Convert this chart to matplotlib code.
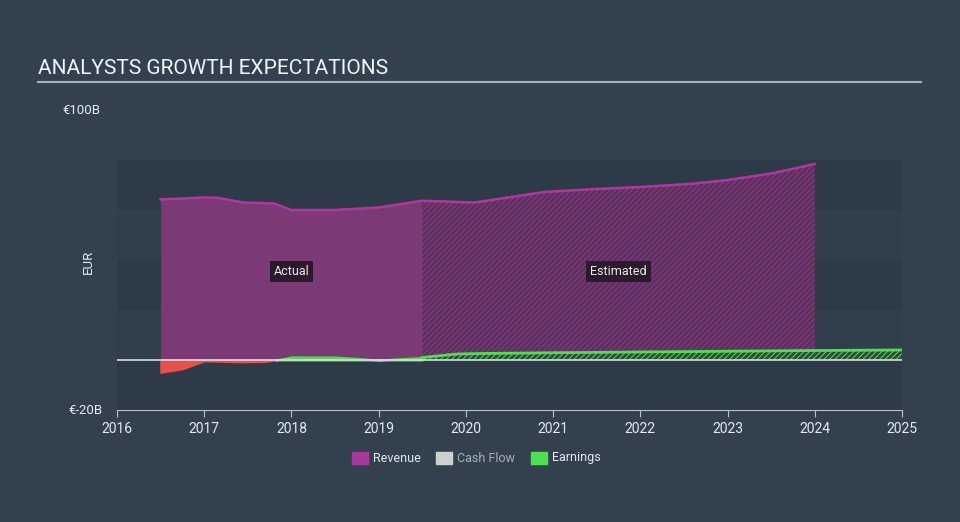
import numpy as np
import matplotlib
matplotlib.use("Agg")
import matplotlib.pyplot as plt
from matplotlib.patches import Rectangle

plt.rcParams['font.family'] = ['Roboto', 'DejaVu Sans']
plt.rcParams['hatch.linewidth'] = 0.7

# revenue, EUR billions
rev_years_act = [2016.5, 2017.0, 2017.15, 2017.45, 2017.8, 2018.0, 2018.5, 2019.0, 2019.5]
rev_act = [64.2, 65.0, 64.9, 63.0, 62.6, 60.0, 60.0, 61.0, 63.7]
rev_years_est = [2019.5, 2020.1, 2020.9, 2021.5, 2022.0, 2022.6, 2023.0, 2023.5, 2024.0]
rev_est = [63.7, 63.0, 67.2, 68.4, 69.2, 70.5, 72.0, 74.6, 78.4]

# earnings, EUR billions
earn_years_act = [2016.5, 2016.75, 2017.0, 2017.4, 2017.7, 2017.85, 2018.0, 2018.5, 2019.0, 2019.5]
earn_act = [-5.0, -3.6, -0.4, -0.8, -0.7, 0.2, 1.2, 1.2, 0.0, 1.0]
earn_years_est = [2019.5, 2019.9, 2020.2, 2021.0, 2022.0, 2023.0, 2024.0, 2025.0]
earn_est = [1.0, 2.4, 2.6, 2.9, 3.2, 3.5, 3.8, 4.0]

bg = '#33414f'
fig = plt.figure(figsize=(9.6, 5.22), dpi=100, facecolor=bg)
ax = fig.add_axes([117/960, 112/522, 785/960, 300/522])
ax.set_facecolor(bg)
ax.set_xlim(2016, 2025)
ax.set_ylim(-20, 100)

# background bands
for lo, c in [(-20, '#2d3b49'), (0, '#313f4d'), (20, '#2d3b49'), (40, '#313f4d'), (60, '#2d3b49')]:
    ax.axhspan(lo, lo + 20, color=c, lw=0, zorder=0)

# revenue
ax.fill_between(rev_years_act, 0, rev_act, color='#7b3a76', lw=0, zorder=2)
ax.fill_between(rev_years_est, 0, rev_est, facecolor='#5c305e', edgecolor='#8c3c86',
                hatch='//////', lw=0, zorder=2)
ax.plot(rev_years_act + rev_years_est, rev_act + rev_est, color='#b2369f', lw=1.8, zorder=3)

# earnings
ea = np.array(earn_act)
ax.fill_between(earn_years_act, 0, ea, where=ea < 0, interpolate=True,
                color='#e8514a', lw=1.2, zorder=4)
ax.fill_between(earn_years_act, 0, ea, where=ea >= 0, interpolate=True,
                facecolor='#4fe04f', edgecolor='#4fe04f', lw=1.5, zorder=4)
ax.fill_between(earn_years_est, 0, earn_est, facecolor='#2f4a3c', edgecolor='#4fe04f',
                hatch='//////', lw=0, zorder=4)
ax.plot(earn_years_est, earn_est, color='#4fe04f', lw=2, zorder=5)

ax.axhline(0, color='#d8dde2', lw=1.2, zorder=6)

for s in ['top', 'right', 'left']:
    ax.spines[s].set_visible(False)
ax.spines['bottom'].set_color('#b8c0c8')
ax.set_yticks([])
ax.set_xticks(range(2016, 2026))
ax.tick_params(axis='x', colors='#b8c0c8', labelcolor='#e6e9ec', labelsize=10, length=5)

ax.text(2018.0, 35.5, 'Actual', color='#e8e8e8', fontsize=9, ha='center', va='center', zorder=7,
        bbox=dict(boxstyle='square,pad=0.3', fc='#2c1a2c', ec='none'))
ax.text(2021.75, 35.5, 'Estimated', color='#e8e8e8', fontsize=9, ha='center', va='center', zorder=7,
        bbox=dict(boxstyle='square,pad=0.3', fc='#2c1a2c', ec='none'))

# title and axis texts
fig.text(38/960, 1 - 68/522, 'ANALYSTS GROWTH EXPECTATIONS', color='#f2f4f6', fontsize=15,
         va='center', ha='left')
fig.add_artist(plt.Line2D([38/960, 921/960], [1 - 82/522, 1 - 82/522], color='#a9b0b8', lw=1.5))
fig.text(100/960, 1 - 110/522, '€100B', color='#e6e9ec', fontsize=9.5, ha='right', va='center')
fig.text(103/960, 1 - 410/522, '€-20B', color='#e6e9ec', fontsize=9.5, ha='right', va='center')
fig.text(88/960, 1 - 262/522, 'EUR', color='#e6e9ec', fontsize=9.5, ha='center', va='center',
         rotation=90)

# legend
ly = 1 - 458/522
for x0, col, lab, tc in [(352, '#a8389a', 'Revenue', '#e6e9ec'),
                         (436, '#cfcfcf', 'Cash Flow', '#a9b0b8'),
                         (531, '#4fe04f', 'Earnings', '#e6e9ec')]:
    fig.add_artist(Rectangle((x0/960, ly - 6/522), 16/960, 12/522, color=col,
                             transform=fig.transFigure))
    fig.text((x0 + 21)/960, ly, lab, color=tc, fontsize=9, va='center', ha='left')

fig.savefig('out.png', dpi=100, facecolor=bg)
